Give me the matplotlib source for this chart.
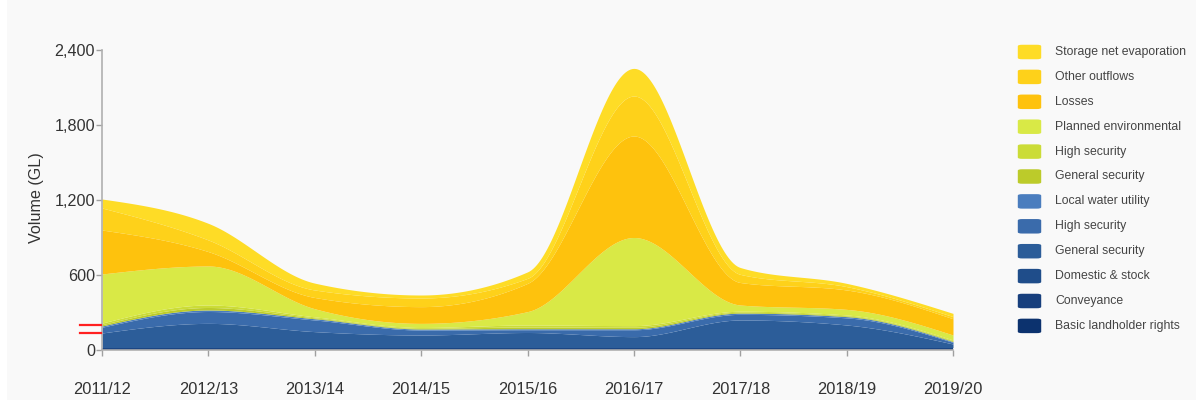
import numpy as np
import matplotlib
matplotlib.use("Agg")
import matplotlib.pyplot as plt
from matplotlib.patches import FancyBboxPatch, Rectangle
from matplotlib.transforms import blended_transform_factory

# ---------------- data ----------------
years = ["2011/12", "2012/13", "2013/14", "2014/15", "2015/16",
         "2016/17", "2017/18", "2018/19", "2019/20"]

basic_landholder_rights = [8, 8, 8, 8, 8, 8, 8, 8, 8]
conveyance = [4, 4, 4, 4, 4, 4, 4, 4, 4]
domestic_stock = [6, 6, 6, 6, 6, 6, 6, 6, 6]
general_security_gw = [118, 195, 129, 102, 122, 89, 222, 182, 30]
high_security_gw = [46, 95, 93, 40, 22, 55, 45, 57, 13]
local_water_utility = [10, 12, 10, 8, 8, 8, 10, 10, 6]
general_security_green = [10, 20, 7, 5, 14, 12, 7, 6, 6]
high_security_green = [13, 20, 8, 7, 16, 13, 8, 7, 7]
planned_environmental = [393, 312, 65, 33, 107, 705, 50, 45, 40]
losses = [352, 115, 90, 134, 226, 812, 180, 155, 130]
other_outflows = [176, 93, 60, 69, 40, 320, 65, 27, 17]
storage_net_evaporation = [72, 133, 55, 24, 52, 221, 55, 26, 26]

series_names = ["Basic landholder rights", "Conveyance", "Domestic & stock",
                "General security", "High security", "Local water utility",
                "General security", "High security", "Planned environmental",
                "Losses", "Other outflows", "Storage net evaporation"]
series_values = [basic_landholder_rights, conveyance, domestic_stock,
                 general_security_gw, high_security_gw, local_water_utility,
                 general_security_green, high_security_green,
                 planned_environmental, losses, other_outflows,
                 storage_net_evaporation]
series_colors = ["#0c326e", "#173f7d", "#1f4d8a", "#2c5d99", "#3a6bab",
                 "#4a7dbe", "#bccb2a", "#cbdc37", "#d9e946", "#fec20d",
                 "#fed11a", "#fedc26"]

y_ticks = [0, 600, 1200, 1800, 2400]
marker_levels = [200, 138]


# ------------- monotone (d3 monotoneX style) curve -------------
def monotone_curve(xs, ys, n=60):
    xs = np.asarray(xs, float)
    ys = np.asarray(ys, float)
    h = np.diff(xs)
    s = np.diff(ys) / h
    m = np.zeros_like(ys)
    sg = lambda v: -1.0 if v < 0 else 1.0
    for i in range(1, len(ys) - 1):
        p = (s[i - 1] * h[i] + s[i] * h[i - 1]) / (h[i - 1] + h[i])
        m[i] = (sg(s[i - 1]) + sg(s[i])) * min(abs(s[i - 1]), abs(s[i]), 0.5 * abs(p))
    m[0] = (3 * s[0] - m[1]) / 2
    m[-1] = (3 * s[-1] - m[-2]) / 2
    X, Y = [], []
    for i in range(len(xs) - 1):
        t = np.linspace(0, 1, n, endpoint=(i == len(xs) - 2))
        hh = h[i]
        h00 = 2 * t**3 - 3 * t**2 + 1
        h10 = t**3 - 2 * t**2 + t
        h01 = -2 * t**3 + 3 * t**2
        h11 = t**3 - t**2
        X.append(xs[i] + t * hh)
        Y.append(h00 * ys[i] + h10 * hh * m[i] + h01 * ys[i + 1] + h11 * hh * m[i + 1])
    return np.concatenate(X), np.concatenate(Y)


# ---------------- figure ----------------
plt.rcParams["font.family"] = ["Liberation Sans", "DejaVu Sans"]
W, H = 1203, 412
fig = plt.figure(figsize=(W / 100, H / 100), dpi=100, facecolor="white")
fig.patches.append(Rectangle((7 / W, 12 / H), (1196 - 7) / W, (412 - 12) / H,
                             transform=fig.transFigure, facecolor="#f9f9f9",
                             edgecolor="none", zorder=-10))

ax = fig.add_axes([102 / W, 1 - 350 / H, (953 - 102) / W, 300 / H])
ax.set_facecolor("none")

x = np.arange(len(years))
cum = np.zeros(len(years))
for vals, col in zip(series_values, series_colors):
    lower = cum.copy()
    cum = cum + np.asarray(vals, float)
    xl, yl = monotone_curve(x, lower)
    xu, yu = monotone_curve(x, cum)
    ax.fill_between(xu, yl, yu, color=col, linewidth=0, zorder=2)

ax.set_xlim(0, len(years) - 1)
ax.set_ylim(0, 2400)
ax.set_xticks(x)
ax.set_xticklabels(years)
ax.set_yticks(y_ticks)
ax.set_yticklabels([f"{v:,}" for v in y_ticks])

for sp in ["top", "right"]:
    ax.spines[sp].set_visible(False)
for sp in ["left", "bottom"]:
    ax.spines[sp].set_color("#b0b0b0")
    ax.spines[sp].set_linewidth(1.2)
    ax.spines[sp].set_zorder(5)

ax.tick_params(axis="x", length=4, width=1, color="#a0a0a0", pad=19,
               labelsize=11.8, labelcolor="#333333")
ax.tick_params(axis="y", length=4, width=1, color="#a0a0a0", pad=1,
               labelsize=11.6, labelcolor="#333333")

fig.text(36 / W, 1 - 198 / H, "Volume (GL)", rotation=90, ha="center",
         va="center", fontsize=11.6, color="#333333")

# red markers left of the y axis
tr = blended_transform_factory(ax.transAxes, ax.transData)
for lv in marker_levels:
    ax.plot([-22 / 851, -1 / 851], [lv, lv], color="#ff2020", lw=1.6,
            transform=tr, clip_on=False, zorder=6)

# legend (top series first)
for i, (name, col) in enumerate(zip(series_names[::-1], series_colors[::-1])):
    cy = 52 + i * 24.9
    fig.patches.append(FancyBboxPatch(((1019 + 3) / W, 1 - (cy + 8.8 - 3) / H),
                                      (21 - 6) / W, (17.6 - 6) / H,
                                      boxstyle="round,pad=0.0035",
                                      transform=fig.transFigure,
                                      facecolor=col, edgecolor="none"))
    fig.text(1055 / W, 1 - cy / H, name, ha="left", va="center",
             fontsize=8.8, color="#444444")

fig.savefig("out.png", dpi=100, facecolor=fig.get_facecolor())
